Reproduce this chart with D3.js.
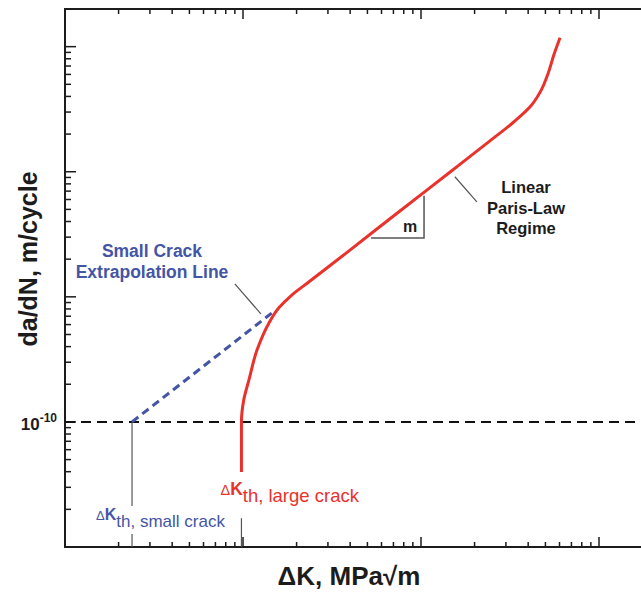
<!DOCTYPE html>
<html>
<head>
<meta charset="utf-8">
<title>Paris law</title>
<script src="https://d3js.org/d3.v7.min.js"></script>
<style>
    body { margin: 0; background: #fff; font-family: "Liberation Sans", Arial, Helvetica, sans-serif; }
</style>
</head>
<body>
<div id="chart"></div>
<script>
// large crack growth curve
const curveK = [0.98, 0.98, 0.98, 1.01, 1.08, 1.2, 1.4, 1.59, 1.86, 2.35, 3.94, 7.52, 14.4, 24.1, 33.3, 41.5, 47.2, 51.7, 55.8, 60.4]
const curveRate = [3.98e-11, 6.55e-11, 1e-10, 1.5e-10, 2.17e-10, 3.77e-10, 6.19e-10, 8.17e-10, 1.02e-9, 1.32e-9,
    2.33e-9, 4.79e-9, 9.82e-9, 1.74e-8, 2.51e-8, 3.37e-8, 4.45e-8, 6.08e-8, 8.63e-8, 1.18e-7]

// small crack extrapolation
const extrapK = [0.238, 1.455]
const extrapRate = [1e-10, 7.45e-10]

const kthSmall = 0.238
const kthLarge = 0.98
const rateThreshold = 1e-10
const yTickLabels = [1e-10]

// annotation anchors (data coords)
const slopeK = [5.24, 10.4]
const slopeRate = [2.96e-9, 6.43e-9]
const smallLeaderK = [0.9, 1.26], smallLeaderRate = [1.27e-9, 7.31e-10]
const parisLeaderK = [15.5, 20.6], parisLeaderRate = [9.12e-9, 5.75e-9]

const w = 641, h = 592
const margin = { left: 65, top: 9, bottom: 547 }

const x = d3.scaleLog().domain([0.1, 1000]).range([margin.left, margin.left + 178 * 4])
const y = d3.scaleLog().domain([1e-11, 2e-7]).range([margin.bottom, margin.top])

const svg = d3.select("#chart").append("svg").attr("width", w).attr("height", h)

const red = "#e8322b", blue = "#4455a6", ink = "#1c1c1c", grey = "#555"

const isMajor = d => Math.abs(Math.log10(d) - Math.round(Math.log10(d))) < 1e-6

// ticks
const xt = x.ticks().filter(d => x(d) > margin.left + 1 && x(d) < w)
svg.append("g").selectAll("line").data(xt).join("line")
    .attr("x1", d => x(d)).attr("x2", d => x(d))
    .attr("y1", margin.bottom).attr("y2", d => margin.bottom - (isMajor(d) ? 10 : 5))
    .attr("stroke", ink).attr("stroke-width", 1.5)
svg.append("g").selectAll("line").data(xt).join("line")
    .attr("x1", d => x(d)).attr("x2", d => x(d))
    .attr("y1", margin.top).attr("y2", d => margin.top + (isMajor(d) ? 10 : 5))
    .attr("stroke", ink).attr("stroke-width", 1.5)

const yt = y.ticks().filter(d => y(d) > margin.top + 1 && y(d) < margin.bottom - 1)
svg.append("g").selectAll("line").data(yt).join("line")
    .attr("x1", margin.left).attr("x2", d => margin.left + (isMajor(d) ? 11 : 6))
    .attr("y1", d => y(d)).attr("y2", d => y(d))
    .attr("stroke", ink).attr("stroke-width", 1.5)

// frame
svg.append("path")
    .attr("d", `M${w + 5},${margin.top}H${margin.left}V${margin.bottom}H${w + 5}`)
    .attr("fill", "none").attr("stroke", ink).attr("stroke-width", 2)

// y tick label
const yl = svg.append("g").selectAll("text").data(yTickLabels).join("text")
    .attr("x", 57).attr("y", d => y(d) + 8)
    .attr("text-anchor", "end").attr("font-weight", "bold").attr("font-size", 17).attr("fill", ink)
yl.append("tspan").text("10")
yl.append("tspan").text(d => Math.round(Math.log10(d))).attr("font-size", 12).attr("dy", -8)

// threshold dashed line
svg.append("line")
    .attr("x1", margin.left).attr("x2", w)
    .attr("y1", y(rateThreshold)).attr("y2", y(rateThreshold))
    .attr("stroke", "#111").attr("stroke-width", 2).attr("stroke-dasharray", "10,6")

// vertical guide lines
svg.append("line")
    .attr("x1", x(kthSmall)).attr("x2", x(kthSmall))
    .attr("y1", y(rateThreshold)).attr("y2", margin.bottom)
    .attr("stroke", grey).attr("stroke-width", 1.2)
svg.append("line")
    .attr("x1", x(kthLarge)).attr("x2", x(kthLarge))
    .attr("y1", y(1.7e-11)).attr("y2", margin.bottom)
    .attr("stroke", grey).attr("stroke-width", 1.2)

// leader lines
svg.append("line")
    .attr("x1", x(smallLeaderK[0])).attr("y1", y(smallLeaderRate[0]))
    .attr("x2", x(smallLeaderK[1])).attr("y2", y(smallLeaderRate[1]))
    .attr("stroke", grey).attr("stroke-width", 1.2)
svg.append("line")
    .attr("x1", x(parisLeaderK[0])).attr("y1", y(parisLeaderRate[0]))
    .attr("x2", x(parisLeaderK[1])).attr("y2", y(parisLeaderRate[1]))
    .attr("stroke", grey).attr("stroke-width", 1.2)

// slope triangle
svg.append("path")
    .attr("d", `M${x(slopeK[0])},${y(slopeRate[0])}H${x(slopeK[1])}V${y(slopeRate[1])}`)
    .attr("fill", "none").attr("stroke", grey).attr("stroke-width", 1.5)

// extrapolation line
const line = d3.line().x(d => x(d[0])).y(d => y(d[1]))
svg.append("path")
    .datum(d3.zip(extrapK, extrapRate))
    .attr("d", line)
    .attr("fill", "none").attr("stroke", blue).attr("stroke-width", 3).attr("stroke-dasharray", "8,5")

// growth curve
svg.append("path")
    .datum(d3.zip(curveK, curveRate))
    .attr("d", line.curve(d3.curveMonotoneY))
    .attr("fill", "none").attr("stroke", red).attr("stroke-width", 3)

// annotation text
function block(lines, cx, y0, color, size) {
    svg.append("g").selectAll("text").data(lines).join("text")
        .attr("x", cx).attr("y", (d, i) => y0 + i * 20.5)
        .attr("text-anchor", "middle").attr("font-weight", "bold").attr("font-size", size)
        .attr("fill", color).text(d => d)
}
block(["Small Crack", "Extrapolation Line"], 152, 257, blue, 17.5)
block(["Linear", "Paris-Law", "Regime"], 526, 193, ink, 16.5)

svg.append("text").attr("x", 410).attr("y", 232).attr("text-anchor", "middle")
    .attr("font-weight", "bold").attr("font-size", 16).attr("fill", ink).text("m")

function kLabel(x0, y0, sub, color, s) {
    const t = svg.append("text").attr("x", x0).attr("y", y0).attr("fill", color)
    t.append("tspan").text("Δ").attr("font-size", s - 4)
    t.append("tspan").text("K").attr("font-size", s - 1).attr("font-weight", "bold")
    t.append("tspan").text(sub).attr("font-size", s).attr("dy", 7)
    return t
}
const smallLab = kLabel(x(kthSmall) - 36, 520, "th, small crack", blue, 17)
const bb = smallLab.node().getBBox()
svg.insert("rect", () => smallLab.node())
    .attr("x", bb.x - 1).attr("y", bb.y).attr("width", bb.width + 2).attr("height", bb.height + 3)
    .attr("fill", "#fff")
kLabel(x(kthLarge) - 21, 495, "th, large crack", red, 18.5)

// axis titles
svg.append("text")
    .attr("x", 349).attr("y", 585).attr("text-anchor", "middle")
    .attr("font-weight", "bold").attr("font-size", 26).attr("fill", ink)
    .text("ΔK, MPa√m")

svg.append("text")
    .attr("transform", "translate(37,259) rotate(-90)")
    .attr("text-anchor", "middle")
    .attr("font-weight", "bold").attr("font-size", 25).attr("fill", ink)
    .text("da/dN, m/cycle")
</script>
</body>
</html>
